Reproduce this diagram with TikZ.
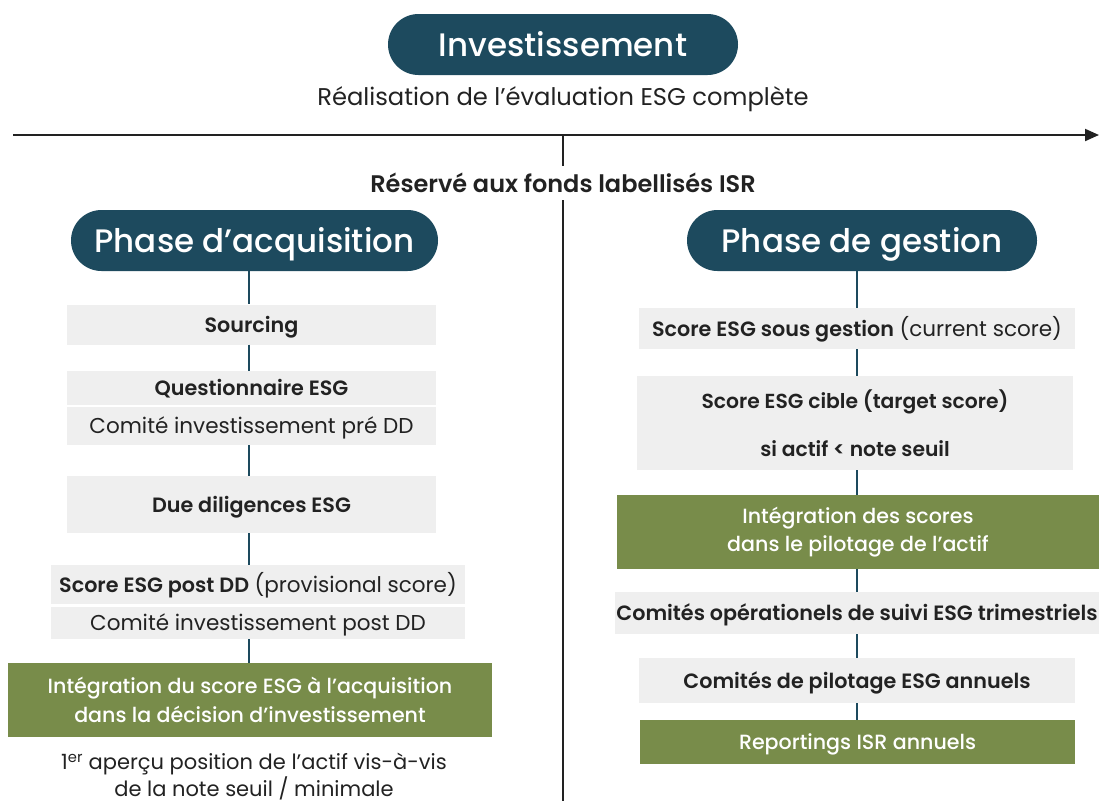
\documentclass[tikz,border=0pt]{standalone}
\usepackage{fontspec}
\setmainfont{Poppins}[BoldFont={Poppins SemiBold}]
\newfontfamily\medfont{Poppins Medium}
\usetikzlibrary{arrows.meta}
\definecolor{teal}{HTML}{1D4A5E}
\definecolor{olive}{HTML}{788C4A}
\definecolor{lgray}{HTML}{EFEFEF}
\definecolor{ink}{HTML}{222222}
\tikzset{
  pill/.style={fill=teal, text=white, rounded corners=30.5pt, inner sep=0pt, minimum height=61pt, text height=23pt, text depth=0pt, font=\medfont\fontsize{32.5}{36}\selectfont},
  graybox/.style={fill=lgray, text=ink, inner sep=0pt, font=\fontsize{20.7}{24}\selectfont},
  single/.style={text height=15pt, text depth=0pt},
  greenbox/.style={fill=olive, text=white, inner sep=0pt, align=center, font=\medfont\fontsize{20.6}{28.5}\selectfont},
  plain/.style={text=ink, inner sep=0pt, align=center, font=\fontsize{21}{27}\selectfont},
  link/.style={draw=teal, line width=1.2pt},
  axis/.style={draw=ink, line width=2pt}
}
\newcommand{\regtext}[1]{{\fontsize{21.5}{24}\selectfont #1}}
\begin{document}
\begin{tikzpicture}[x=1pt,y=-1pt]
\useasboundingbox (0,0) rectangle (1099,801);
% top
\node[pill, minimum width=350pt] (inv) at (563,44.5) {Investissement};
\node[plain, font=\fontsize{24.2}{28}\selectfont] (real) at (563,99) {Réalisation de l’évaluation ESG complète};
\coordinate (axL) at (13,135);
\coordinate (axR) at (1099,135);
\coordinate (axM) at (563,135);
\draw[axis, -{Triangle[length=14pt,width=12pt]}] (axL) -- (axR);
\node[plain, font=\bfseries\fontsize{24}{28}\selectfont] (isr) at (563,183) {Réservé aux fonds labellisés ISR};
\coordinate (isrT) at (563,166);
\coordinate (isrB) at (563,200);
\coordinate (bot) at (563,801);
\draw[axis] (axM) -- (isrT);
\draw[axis] (isrB) -- (bot);
% left column
\node[pill, minimum width=367pt] (pa) at (254.5,240.5) {Phase d’acquisition};
\node[graybox, single, minimum width=369pt, minimum height=40pt] (src) at (251.5,324.5) {\bfseries Sourcing};
\node[graybox, single, minimum width=369pt, minimum height=34pt] (quest) at (251.5,388) {\bfseries Questionnaire ESG};
\node[graybox, single, minimum width=369pt, minimum height=38pt] (cpre) at (251.5,426) {\regtext{Comité investissement pré DD}};
\node[graybox, single, minimum width=369pt, minimum height=57pt] (dd) at (251.5,504.5) {\bfseries Due diligences ESG};
\node[graybox, single, minimum width=414pt, minimum height=39pt] (post) at (258,584.5) {\textbf{Score ESG post DD} \regtext{(provisional score)}};
\node[graybox, single, minimum width=414pt, minimum height=32pt] (cpost) at (258,623) {\regtext{Comité investissement post DD}};
\node[greenbox, minimum width=484pt, minimum height=74pt] (gacq) at (250,700) {Intégration du score ESG à l’acquisition\\dans la décision d’investissement};
\node[plain] (apercu) at (254,777) {1\textsuperscript{er} aperçu position de l’actif vis-à-vis\\de la note seuil / minimale};
\draw[link] (pa.south -| 249,0) -- (src.north -| 249,0);
\draw[link] (src.south -| 249,0) -- (quest.north -| 249,0);
\draw[link] (cpre.south -| 249,0) -- (dd.north -| 249,0);
\draw[link] (dd.south -| 249,0) -- (post.north -| 249,0);
\draw[link] (cpost.south -| 249,0) -- (gacq.north -| 249,0);
% right column
\node[pill, minimum width=350pt] (pg) at (862,240.5) {Phase de gestion};
\node[graybox, single, minimum width=436pt, minimum height=41pt] (cur) at (857,328.5) {\textbf{Score ESG sous gestion} \regtext{(current score)}};
\node[graybox, minimum width=436pt, minimum height=94pt, align=center, font=\bfseries\fontsize{20.3}{48}\selectfont] (cib) at (855,423) {Score ESG cible (target score)\\si actif < note seuil};
\node[greenbox, minimum width=482pt, minimum height=74pt] (gpil) at (858,532) {Intégration des scores\\dans le pilotage de l’actif};
\node[graybox, single, minimum width=484pt, minimum height=42pt] (cop) at (857,613) {\bfseries Comités opérationels de suivi ESG trimestriels};
\node[graybox, single, minimum width=436pt, minimum height=45pt] (cpil) at (857,680.5) {\bfseries Comités de pilotage ESG annuels};
\node[greenbox, single, minimum width=435pt, minimum height=44pt] (rep) at (857.5,742) {Reportings ISR annuels};
\draw[link] (pg.south -| 857,0) -- (cur.north -| 857,0);
\draw[link] (cur.south -| 857,0) -- (cib.north -| 857,0);
\draw[link] (cib.south -| 857,0) -- (gpil.north -| 857,0);
\draw[link] (gpil.south -| 857,0) -- (cop.north -| 857,0);
\draw[link] (cop.south -| 857,0) -- (cpil.north -| 857,0);
\draw[link] (cpil.south -| 857,0) -- (rep.north -| 857,0);
\end{tikzpicture}
\end{document}
